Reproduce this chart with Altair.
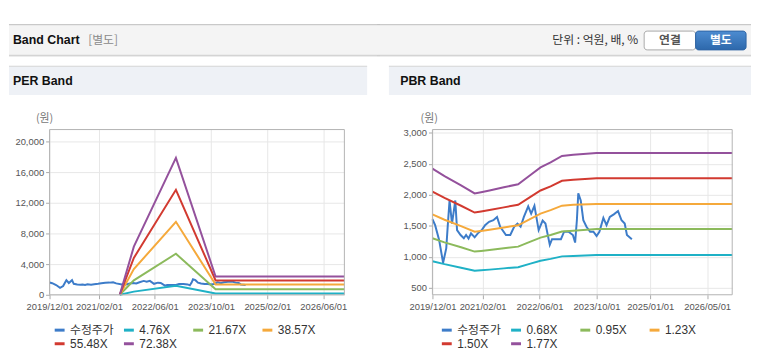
import altair as alt
import pandas as pd

FONT = "Liberation Sans, Noto Sans CJK KR, sans-serif"
KFONT = "Noto Sans CJK KR, Liberation Sans, sans-serif"

# ---------------- data ----------------
price_dates = [
    "2019-12-01", "2019-12-24", "2020-01-27", "2020-03-01", "2020-03-28", "2020-04-10",
    "2020-04-25", "2020-05-16", "2020-06-13", "2020-06-28", "2020-07-28", "2020-08-25",
    "2020-09-13", "2020-10-04", "2020-10-25", "2020-11-25", "2020-12-22", "2021-01-25",
    "2021-02-22", "2021-03-28", "2021-05-04", "2021-06-04", "2021-07-01", "2021-08-19",
    "2021-09-25", "2021-10-28", "2021-11-25", "2021-12-22", "2022-01-19", "2022-02-25",
    "2022-03-22", "2022-04-19", "2022-05-25", "2022-06-28", "2022-07-22", "2022-08-28",
    "2022-09-16", "2022-10-28", "2022-12-01", "2022-12-28", "2023-02-04", "2023-03-13",
    "2023-04-01", "2023-04-16", "2023-04-28", "2023-05-19", "2023-06-10", "2023-07-07",
    "2023-08-07", "2023-09-04", "2023-10-01", "2023-10-25", "2023-11-28", "2023-12-25",
    "2024-01-22", "2024-02-25", "2024-04-01", "2024-05-01", "2024-05-28", "2024-06-16",
    "2024-07-28",
]
price_values = [
    1606, 1511, 1273, 903, 1141, 1511,
    1908, 1537, 1908, 1432, 1352, 1300,
    1352, 1294, 1379, 1315, 1379, 1432,
    1511, 1564, 1590, 1643, 1485, 1352,
    1352, 1485, 1537, 1485, 1643, 1812,
    1696, 1823, 1432, 1585, 1537, 1193,
    1284, 1284, 1284, 1405, 1405, 1352,
    1230, 1590, 2025, 1908, 1590, 1485,
    1405, 1405, 1337, 1405, 1627, 1511,
    1643, 1685, 1738, 1590, 1537, 1352,
    1284,
]

per_names = ["수정주가", "4.76X", "21.67X", "38.57X", "55.48X", "72.38X"]
per_band_dates = ["2021-08-01", "2021-12-01", "2022-12-01", "2023-11-10", "2026-12-01"]
per_4_76 = [0, 414, 1177, 180, 180]
per_21_67 = [0, 1883, 5359, 710, 710]
per_38_57 = [0, 3352, 9538, 1340, 1340]
per_55_48 = [0, 4821, 13720, 1880, 1880]
per_72_38 = [0, 6290, 17900, 2390, 2390]

pbr_names = ["수정주가", "0.68X", "0.95X", "1.23X", "1.50X", "1.77X"]
pbr_band_dates = [
    "2019-12-01", "2020-03-13", "2020-08-01", "2020-11-25", "2021-01-19", "2021-04-01",
    "2021-08-01", "2021-12-01", "2022-03-16", "2022-06-10", "2022-09-04", "2022-12-10",
    "2023-03-16", "2023-10-01", "2026-12-01",
]
pbr_0_68 = [930, 883, 826, 777, 784, 795, 815, 834, 891, 938, 968, 1008, 1016, 1032, 1032]
pbr_0_95 = [1300, 1234, 1154, 1085, 1095, 1111, 1138, 1165, 1245, 1310, 1353, 1409, 1419, 1448, 1448]
pbr_1_23 = [1683, 1598, 1495, 1405, 1418, 1438, 1474, 1508, 1611, 1696, 1752, 1824, 1838, 1850, 1850]
pbr_1_50 = [2052, 1949, 1823, 1713, 1730, 1754, 1797, 1839, 1965, 2069, 2136, 2225, 2241, 2265, 2265]
pbr_1_77 = [2421, 2299, 2151, 2021, 2041, 2069, 2121, 2170, 2319, 2441, 2521, 2625, 2644, 2673, 2673]

series_colors = ["#3d7cc9", "#1fb1c6", "#8cba5c", "#f5a93b", "#d23a30", "#94519c"]

per_x_ticks = ["2019-12-01", "2021-02-01", "2022-06-01", "2023-10-01", "2025-02-01", "2026-06-01"]
pbr_x_ticks = ["2019-12-01", "2021-02-01", "2022-06-01", "2023-10-01", "2025-01-01", "2026-05-01"]
per_y_ticks = [0, 4000, 8000, 12000, 16000, 20000]
pbr_y_ticks = [500, 1000, 1500, 2000, 2500, 3000]
x_start, x_end = "2019-12-01", "2026-12-01"

header_title = "Band Chart"
header_sub = "[별도]"
header_unit = "단위 : 억원, 배, %"
button_labels = ["연결", "별도"]


def dt(s):
    y, m, d = (int(v) for v in s.split("-"))
    return alt.DateTime(year=y, month=m, date=d)


def price_frame(name):
    return pd.DataFrame({
        "date": pd.to_datetime(price_dates),
        "value": price_values,
        "series": name,
    })


def band_frame(dates, names, lists):
    rows = []
    for name, vals in zip(names, lists):
        for d, v in zip(dates, vals):
            rows.append({"date": pd.Timestamp(d), "value": v, "series": name})
    return pd.DataFrame(rows)


one = pd.DataFrame({"k": [0]})


def rect(x, x2, y, y2, **kw):
    return alt.Chart(one).mark_rect(**kw).encode(
        x=alt.value(x), x2=alt.value(x2), y=alt.value(y), y2=alt.value(y2))


def hrule(x, x2, y, color):
    return alt.Chart(one).mark_rule(color=color, strokeWidth=1).encode(
        x=alt.value(x), x2=alt.value(x2), y=alt.value(y))


def label(x, y, txt, align="left", font=FONT, size=12, weight="normal", color="#333"):
    return alt.Chart(one).mark_text(
        align=align, baseline="middle", font=font, fontSize=size,
        fontWeight=weight, color=color).encode(
        x=alt.value(x), y=alt.value(y), text=alt.value(txt))


HY0, HY1 = -106, -75  # header band (relative to plot top)


def panel(title, names, band_df, y_domain, y_ticks, x_ticks, W, H,
          left, right, hleft, hright, title_x, unit_x, unit_y, legend_x, header_items):
    color_leg = alt.Color(
        "series:N",
        scale=alt.Scale(domain=names, range=series_colors),
        legend=alt.Legend(
            orient="none", direction="horizontal", legendX=legend_x, legendY=196,
            columns=4, gridAlign="all",
            symbolType="stroke", symbolSize=100, symbolStrokeWidth=3,
            labelFont=FONT, labelFontSize=12, labelColor="#333", title=None,
            columnPadding=3, rowPadding=1, labelOffset=4, padding=0,
            values=names,
        ),
    )
    color_nl = alt.Color("series:N", scale=alt.Scale(domain=names, range=series_colors), legend=None)
    x = alt.X(
        "date:T",
        scale=alt.Scale(domain=[dt(x_start), dt(x_end)]),
        axis=alt.Axis(values=[dt(s) for s in x_ticks], format="%Y/%m/%d",
                      labelFlush=False, labelAngle=0, title=None, labelPadding=3),
    )
    y = alt.Y(
        "value:Q",
        scale=alt.Scale(domain=y_domain, nice=False, zero=False),
        axis=alt.Axis(values=y_ticks, format=",.0f", title=None, labelPadding=2),
    )
    layers = [
        rect(hleft, hright, HY0, HY1, fill="#f4f4f4"),
        hrule(hleft, hright, HY0, "#bdbdbd"),
        hrule(hleft, hright, HY1, "#c6c6c6"),
        hrule(hleft, hright, HY1 + 1, "#e8e8e8"),
    ] + header_items + [
        rect(left, right, -64, -35, fill="#eef1f6"),
        hrule(left, right, -64, "#d4d4d4"),
        label(title_x, -49, title, size=12.5, weight="bold", color="#111"),
        label(unit_x, unit_y, "(원)", align="center", font=KFONT, size=11, color="#777"),
        alt.Chart(price_frame(names[0])).mark_line(strokeWidth=2).encode(x=x, y=y, color=color_leg),
        alt.Chart(band_df).mark_line(strokeWidth=2).encode(x=x, y=y, color=color_nl),
        rect(0, W, 0, H, fill="transparent", stroke="#b3b3b3", strokeWidth=1),
    ]
    return alt.layer(*layers).properties(width=W, height=H)


per_df = band_frame(per_band_dates, per_names[1:], [per_4_76, per_21_67, per_38_57, per_55_48, per_72_38])
pbr_df = band_frame(pbr_band_dates, pbr_names[1:], [pbr_0_68, pbr_0_95, pbr_1_23, pbr_1_50, pbr_1_77])

# header pieces, left half in PER panel coords, right half in PBR panel coords
left_header = [
    label(-37, -90.5, header_title, size=12.5, weight="bold", color="#111"),
    label(39, -90.5, header_sub, font=KFONT, size=12, color="#8a8a8a"),
]
right_header = [
    label(208, -90.5, header_unit, align="right", font=KFONT, size=12, color="#333"),
    rect(214, 266, -99.5, -80.5, fill="white", stroke="#a9a9a9", cornerRadius=3),
    rect(266, 317, -99.5, -80.5,
         fill=alt.Gradient(gradient="linear", x1=0, y1=0, x2=0, y2=1,
                           stops=[alt.GradientStop(color="#4d8cd1", offset=0),
                                  alt.GradientStop(color="#2d68ab", offset=1)]),
         stroke="#2f65a5", cornerRadius=3),
    label(240, -90, button_labels[0], align="center", font=KFONT, size=12, weight="bold", color="#555"),
    label(291.5, -90, button_labels[1], align="center", font=KFONT, size=12, weight="bold", color="white"),
]

per = panel("PER Band", per_names, per_df, [0, 21600], per_y_ticks, per_x_ticks,
            298, 167, -41, 321, -41, 334, -37, -5, -11, 3.7, left_header)
pbr = panel("PBR Band", pbr_names, pbr_df, [390, 3050], pbr_y_ticks, pbr_x_ticks,
            303, 167, -44, 322, -56, 322, -32.6, -3.3, -10.3, 8, right_header)

chart = alt.hconcat(per, pbr, spacing=89, bounds="flush").resolve_scale(
    x="independent", y="independent", color="independent"
).resolve_legend(color="independent").properties(
    padding={"left": 0, "top": 14, "right": 0, "bottom": 0}
).configure_view(stroke="transparent").configure_axis(
    labelFont=FONT, labelFontSize=9.5, labelColor="#555", tickColor="#aaaaaa", tickSize=4,
    gridColor="#e7e7e7", domain=False,
)

chart.save("out.html", embed_options={"renderer": "svg", "actions": False})
